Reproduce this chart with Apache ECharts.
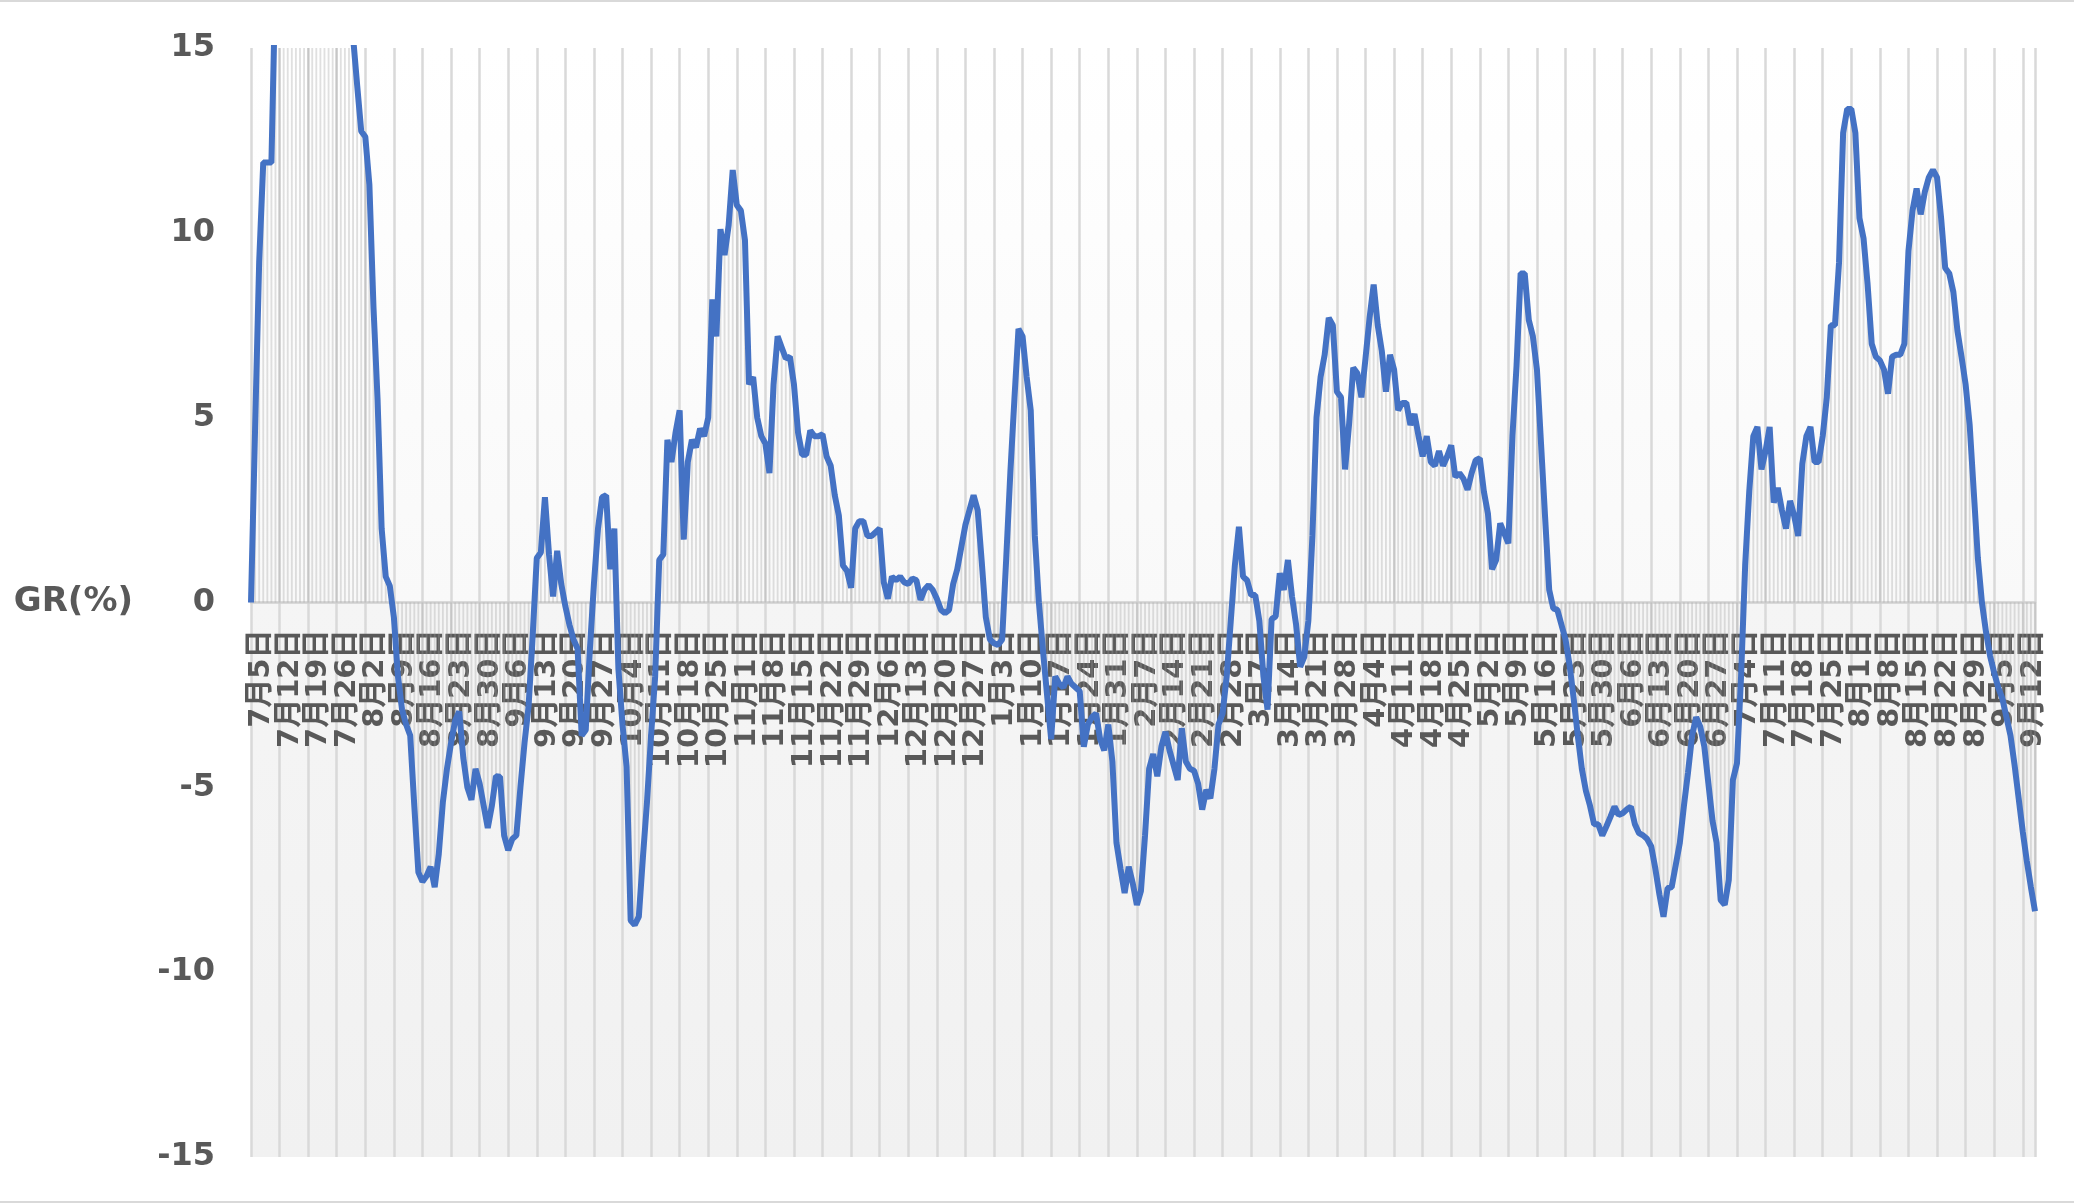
<!DOCTYPE html>
<html>
<head>
<meta charset="utf-8">
<script src="https://cdn.jsdelivr.net/npm/echarts@6/dist/echarts.min.js"></script>
<style>
html,body{margin:0;padding:0;background:#ffffff;}
#frame{width:2074px;height:1203px;box-sizing:border-box;border-top:2px solid #d9d9d9;border-bottom:2px solid #d9d9d9;overflow:hidden;}
#chart{width:2074px;height:1199px;}
</style>
</head>
<body>
<div id="frame"><div id="chart"></div></div>
<script>
// First day of the daily series (2020-07-05), one value per day
const startYear = 2020, startMonth = 7, startDay = 5;

// Daily growth rate GR(%) (values above 15 are off the chart)
const grValues = [
  0, 4.7, 9.2, 11.9, 11.9, 11.9, 17,
  20, 22, 23, 24, 24.5, 25, 25,
  25, 24.5, 24, 23, 22, 21, 20,
  19, 18, 17, 16, 15.3, 14.0, 12.75,
  12.6, 11.3, 8.0, 5.5, 2.0, 0.7, 0.45,
  -0.4, -2.0, -2.9, -3.3, -3.6, -5.5, -7.3,
  -7.55, -7.4, -7.15, -7.7, -6.8, -5.4, -4.5,
  -3.8, -3.2, -2.95, -4.2, -5.0, -5.34, -4.5,
  -4.9, -5.5, -6.1, -5.5, -4.7, -4.71, -6.3,
  -6.7, -6.4, -6.3, -5.0, -3.8, -2.8, -0.9,
  1.2, 1.35, 2.85, 1.3, 0.16, 1.4, 0.5,
  -0.1, -0.6, -1.0, -1.25, -3.6, -3.45, -1.3,
  0.5, 2.0, 2.85, 2.9, 0.9, 2.0, -1.8,
  -3.3, -4.44, -8.6, -8.72, -8.5, -6.9, -5.4,
  -3.6, -2.0, 1.15, 1.3, 4.4, 3.8, 4.6,
  5.2, 1.7, 3.8, 4.4, 4.2, 4.7, 4.5,
  5.0, 8.2, 7.2, 10.1, 9.4, 10.2, 11.7,
  10.75, 10.6, 9.8, 5.9, 6.1, 5.0, 4.5,
  4.3, 3.5, 5.9, 7.2, 6.9, 6.6, 6.65,
  5.9, 4.6, 4.0, 4.0, 4.65, 4.5, 4.5,
  4.55, 3.95, 3.7, 2.9, 2.35, 1.0, 0.85,
  0.4, 2.0, 2.2, 2.2, 1.8, 1.8, 1.9,
  2.0, 0.55, 0.1, 0.7, 0.6, 0.7, 0.55,
  0.5, 0.65, 0.6, 0.07, 0.35, 0.47, 0.34,
  0.1, -0.2, -0.29, -0.2, 0.5, 0.9, 1.5,
  2.1, 2.5, 2.9, 2.5, 1.1, -0.4, -1.0,
  -1.1, -1.15, -1.0, 1.2, 3.5, 5.5, 7.4,
  7.2, 6.1, 5.2, 1.8, 0.0, -1.3, -2.5,
  -3.7, -2.0, -2.2, -2.3, -2.0, -2.2, -2.3,
  -2.4, -3.9, -3.3, -3.1, -3.0, -3.7, -4.0,
  -3.3, -4.3, -6.5, -7.2, -7.86, -7.15, -7.6,
  -8.18, -7.8, -6.3, -4.5, -4.1, -4.7, -3.9,
  -3.5, -4.0, -4.4, -4.8, -3.4, -4.3, -4.5,
  -4.55, -4.9, -5.6, -5.07, -5.3, -4.5, -3.3,
  -3.0, -2.0, -0.5, 1.0, 2.05, 0.7, 0.6,
  0.2, 0.2, -0.5, -2.0, -2.9, -0.45, -0.38,
  0.79, 0.34, 1.15, 0.16, -0.6, -1.74, -1.47,
  -0.5, 1.8, 5.0, 6.1, 6.7, 7.7, 7.5,
  5.7, 5.55, 3.6, 4.85, 6.35, 6.2, 5.55,
  6.6, 7.7, 8.6, 7.5, 6.8, 5.7, 6.7,
  6.3, 5.2, 5.4, 5.4, 4.8, 5.1, 4.5,
  3.95, 4.5, 3.8, 3.7, 4.1, 3.7, 3.95,
  4.25, 3.4, 3.5, 3.35, 3.05, 3.5, 3.85,
  3.9, 3.0, 2.4, 0.9, 1.15, 2.14, 1.87,
  1.6, 4.5, 6.4, 8.9, 8.9, 7.64, 7.2,
  6.3, 4.3, 2.3, 0.34, -0.16, -0.2, -0.6,
  -1.0, -1.7, -2.6, -3.6, -4.5, -5.1, -5.5,
  -6.0, -6.0, -6.3, -6.06, -5.8, -5.52, -5.75,
  -5.7, -5.6, -5.52, -6.0, -6.24, -6.3, -6.4,
  -6.6, -7.2, -7.9, -8.5, -7.73, -7.7, -7.1,
  -6.5, -5.5, -4.6, -3.6, -3.1, -3.36, -3.9,
  -4.9, -5.9, -6.5, -8.05, -8.18, -7.5, -4.8,
  -4.35, -2.0, 1.0, 3.0, 4.5, 4.75, 3.6,
  4.1, 4.75, 2.7, 3.1, 2.5, 2.0, 2.75,
  2.35, 1.8, 3.75, 4.5, 4.75, 3.8, 3.8,
  4.5, 5.55, 7.5, 7.5, 9.2, 12.7, 13.35,
  13.35, 12.7, 10.4, 9.85, 8.6, 7.0, 6.65,
  6.55, 6.3, 5.65, 6.65, 6.7, 6.7, 7.0,
  9.5, 10.6, 11.2, 10.5, 11.1, 11.5, 11.7,
  11.5, 10.4, 9.05, 8.9, 8.4, 7.35, 6.65,
  5.9, 4.8, 3.0, 1.2, 0.0, -0.8, -1.45,
  -1.9, -2.3, -2.6, -3.1, -3.6, -4.4, -5.3,
  -6.2, -7.0, -7.7, -8.35
];

// Value axis range and tick step
const yMin = -15, yMax = 15, yStep = 5;
// A date label (and grid line) every 7 days
const labelEvery = 7;

// Category labels "M月D日", one per day
const categories = [];
for (let i = 0; i < grValues.length; i++) {
  const d = new Date(startYear, startMonth - 1, startDay + i);
  categories.push((d.getMonth() + 1) + '月' + d.getDate() + '日');
}

const fontStack = "'DejaVu Sans', 'Noto Sans CJK JP', sans-serif";
const textColor = '#595959';
const gridTop = 46, gridBottom = 44, chartHeight = 1199;
const plotHeight = chartHeight - gridTop - gridBottom;

const chart = echarts.init(document.getElementById('chart'), null, {renderer: 'canvas'});
chart.setOption({
  animation: false,
  grid: {
    left: 251, right: 39, top: gridTop, bottom: gridBottom,
    outerBoundsMode: 'none',
    containLabel: false,
    show: true, borderWidth: 0,
    backgroundColor: new echarts.graphic.LinearGradient(0, 0, 0, 1, [
      {offset: 0, color: '#ffffff'},
      {offset: 0.5, color: '#f9f9f9'},
      {offset: 0.5, color: '#f5f5f5'},
      {offset: 1, color: '#f1f1f1'}
    ])
  },
  xAxis: {
    type: 'category',
    data: categories,
    boundaryGap: false,
    position: 'bottom',
    // the category axis crosses the value axis at 0 (middle of the plot)
    offset: -plotHeight / 2,
    axisLine: {onZero: false, lineStyle: {color: '#d0d0d0', width: 2.5}},
    axisTick: {show: false},
    axisLabel: {
      interval: 0,
      formatter: function (value, index) { return index % labelEvery === 0 ? value : ''; },
      hideOverlap: false,
      rotate: 90,
      margin: 27,
      color: textColor,
      fontWeight: 'bold',
      fontSize: 29,
      lineHeight: 21,
      verticalAlign: 'top',
      fontFamily: fontStack
    },
    splitLine: {show: true, interval: labelEvery - 1, lineStyle: {color: '#d9d9d9', width: 2.5}}
  },
  yAxis: {
    type: 'value',
    min: yMin, max: yMax, interval: yStep,
    name: 'GR(%)',
    nameLocation: 'middle',
    nameRotate: 0,
    nameGap: 118,
    nameTextStyle: {color: textColor, fontWeight: 'bold', fontSize: 34, fontFamily: fontStack},
    axisLine: {show: false},
    axisTick: {show: false},
    splitLine: {show: false},
    axisLabel: {margin: 36, color: textColor, fontWeight: 'bold', fontSize: 32, fontFamily: fontStack}
  },
  series: [
    {
      type: 'bar',
      data: grValues,
      barWidth: '45%',
      silent: true,
      itemStyle: {color: 'rgba(160,160,160,0.32)'}
    },
    {
      type: 'line',
      data: grValues,
      showSymbol: false,
      z: 5,
      lineStyle: {color: '#4472C4', width: 6},
      itemStyle: {color: '#4472C4'}
    }
  ]
});
</script>
</body>
</html>
